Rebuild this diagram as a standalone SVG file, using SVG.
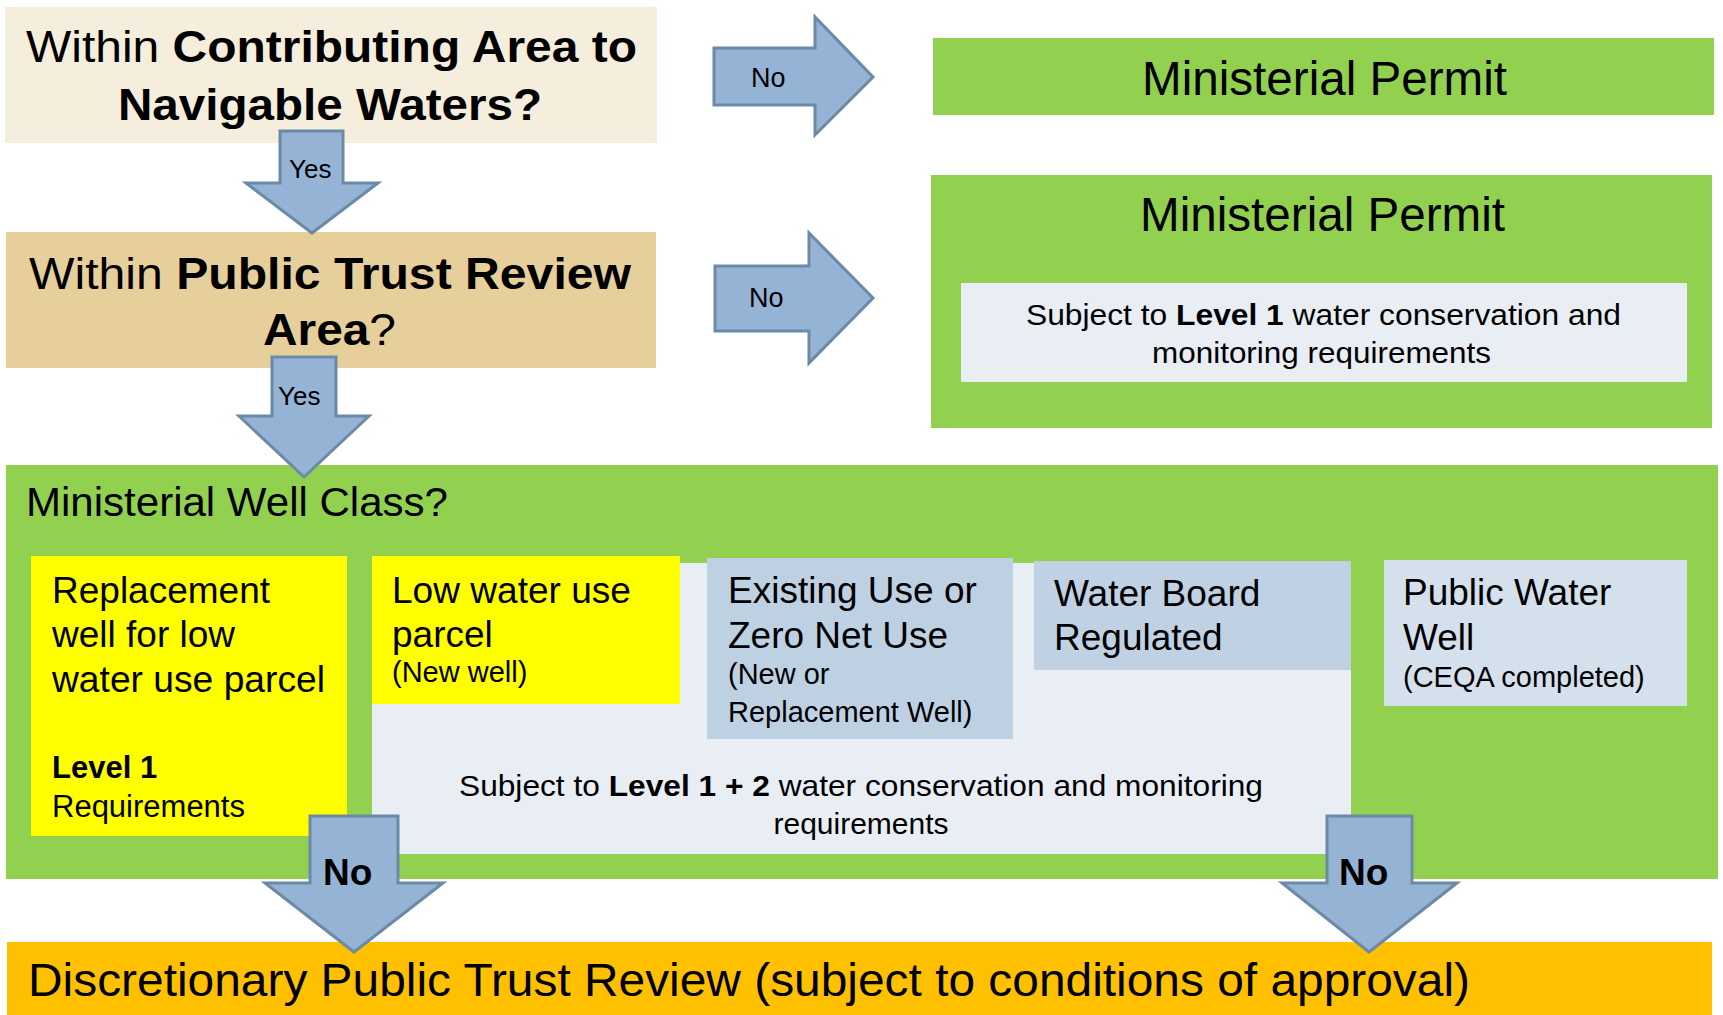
<svg xmlns="http://www.w3.org/2000/svg" width="1723" height="1015" viewBox="0 0 1723 1015">
<defs>
<style>
text{font-family:"Liberation Sans",Arial,sans-serif;fill:#000}
.b{font-weight:bold}
.arrow{fill:#95B3D5;stroke:#6C89A5;stroke-width:3;stroke-linejoin:miter}
.q{font-size:45px}
.t37{font-size:37px}
.t29{font-size:29px}
.t30{font-size:30px}
</style>
</defs>
<rect width="1723" height="1015" fill="#fff"/>

<g id="q1">
<rect x="5" y="7" width="652" height="136" fill="#F6EEDD"/>
<text class="q" x="26" y="62" textLength="611" lengthAdjust="spacingAndGlyphs">Within <tspan class="b">Contributing Area to</tspan></text>
<text class="q b" x="118" y="120" textLength="424" lengthAdjust="spacingAndGlyphs">Navigable Waters?</text>
</g>

<g id="q2">
<rect x="6" y="232" width="650" height="136" fill="#E7CF9C"/>
<text class="q" x="29" y="289" textLength="602" lengthAdjust="spacingAndGlyphs">Within <tspan class="b">Public Trust Review</tspan></text>
<text class="q" x="263" y="345" textLength="133" lengthAdjust="spacingAndGlyphs"><tspan class="b">Area</tspan>?</text>
</g>

<g id="permit1">
<rect x="933" y="38" width="781" height="77" fill="#92D050"/>
<text x="1142" y="95" font-size="48" textLength="365" lengthAdjust="spacingAndGlyphs">Ministerial Permit</text>
</g>

<g id="permit2">
<rect x="931" y="175" width="781" height="253" fill="#92D050"/>
<text x="1140" y="231" font-size="48" textLength="365" lengthAdjust="spacingAndGlyphs">Ministerial Permit</text>
<rect x="961" y="283" width="726" height="99" fill="#E9EDF4"/>
<text class="t30" x="1026" y="325" textLength="595" lengthAdjust="spacingAndGlyphs">Subject to <tspan class="b">Level 1</tspan> water conservation and</text>
<text class="t30" x="1152" y="363" textLength="339" lengthAdjust="spacingAndGlyphs">monitoring  requirements</text>
</g>

<g id="wellclass">
<rect x="6" y="465" width="1712" height="414" fill="#92D050"/>
<text x="26" y="516" font-size="41" textLength="422" lengthAdjust="spacingAndGlyphs">Ministerial Well Class?</text>
</g>

<g id="level12">
<rect x="372" y="563" width="979" height="291" fill="#E9EDF4"/>
<text class="t30" x="459" y="796" textLength="804" lengthAdjust="spacingAndGlyphs">Subject to <tspan class="b">Level 1 + 2</tspan> water conservation  and monitoring</text>
<text class="t30" x="861" y="834" text-anchor="middle">requirements</text>
</g>

<g id="replacement">
<rect x="31" y="556" width="316" height="280" fill="#FFFF00"/>
<text class="t37" x="52" y="603">Replacement</text>
<text class="t37" x="52" y="647">well for low</text>
<text class="t37" x="52" y="692" textLength="273" lengthAdjust="spacingAndGlyphs">water use parcel</text>
<text class="b" x="52" y="778" font-size="31">Level 1</text>
<text x="52" y="817" font-size="31">Requirements</text>
</g>

<g id="lowwater">
<rect x="372" y="556" width="308" height="148" fill="#FFFF00"/>
<text class="t37" x="392" y="603" textLength="239" lengthAdjust="spacingAndGlyphs">Low water use</text>
<text class="t37" x="392" y="647">parcel</text>
<text class="t29" x="392" y="682">(New well)</text>
</g>

<g id="existing">
<rect x="707" y="558" width="306" height="181" fill="#BED1E3"/>
<text class="t37" x="728" y="603">Existing Use or</text>
<text class="t37" x="728" y="648">Zero Net Use</text>
<text class="t29" x="728" y="684">(New or</text>
<text class="t29" x="728" y="722">Replacement Well)</text>
</g>

<g id="waterboard">
<rect x="1034" y="561" width="317" height="109" fill="#BFD1E3"/>
<text class="t37" x="1054" y="606">Water Board</text>
<text class="t37" x="1054" y="650">Regulated</text>
</g>

<g id="publicwater">
<rect x="1384" y="560" width="303" height="146" fill="#D4E1EC"/>
<text class="t37" x="1403" y="605">Public Water</text>
<text class="t37" x="1403" y="650">Well</text>
<text class="t29" x="1403" y="687">(CEQA completed)</text>
</g>

<g id="discretionary">
<rect x="7" y="942" width="1705" height="73" fill="#FFC000"/>
<text x="28" y="996" font-size="46" textLength="1442" lengthAdjust="spacingAndGlyphs">Discretionary Public Trust Review (subject to conditions of approval)</text>
</g>

<g id="connectors">
<polygon class="arrow" points="714,48 815,48 815,17 873,77 815,135 815,105 714,105"/>
<text x="751" y="87" font-size="27">No</text>
<polygon class="arrow" points="715,266 809,266 809,233 873,298 809,363 809,331 715,331"/>
<text x="749" y="307" font-size="27">No</text>
<polygon class="arrow" points="280,131 343,131 343,183 378,183 312,233 246,183 280,183"/>
<text x="289" y="178" font-size="26">Yes</text>
<polygon class="arrow" points="272,357 336,357 336,416 369,416 304,477 239,416 272,416"/>
<text x="278" y="405" font-size="26">Yes</text>
<polygon class="arrow" points="310,816 398,816 398,883 443,883 354,952 265,883 310,883"/>
<text class="b" x="323" y="885" font-size="37">No</text>
<polygon class="arrow" points="1327,816 1412,816 1412,883 1457,883 1369,952 1282,883 1327,883"/>
<text class="b" x="1339" y="885" font-size="37">No</text>
</g>
</svg>
